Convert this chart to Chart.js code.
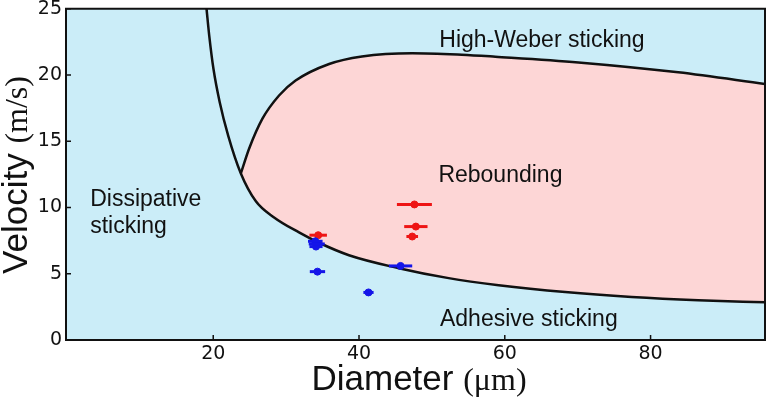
<!DOCTYPE html>
<html lang="en">
<head>
<meta charset="UTF-8">
<title>Impact regimes</title>
<script src="https://cdn.jsdelivr.net/npm/chart.js"></script>
<style>
    html, body { margin: 0; padding: 0; background: #fff; }
    .chart-box { width: 770px; height: 397px; }
</style>
</head>
<body>
<div class="chart-box"><canvas id="regimeChart"></canvas></div>
<script>
    // boundary curves: diameter (um) / velocity (m/s)
    const lowerD = [19.08, 19.45, 20.04, 20.89, 22.05, 23.79, 25.85, 28.35, 31.77, 34.51, 38.62, 45.46, 52.3, 59.16, 68.28, 77.4, 86.53, 95.7];
    const lowerV = [25.0, 22.98, 20.43, 17.95, 15.43, 12.57, 10.47, 9.25, 8.12, 7.34, 6.4, 5.42, 4.67, 4.14, 3.62, 3.25, 3.0, 2.84];
    const upperD = [23.79, 24.93, 26.75, 29.03, 31.3, 35.9, 40.4, 47.3, 54.1, 58.7, 70.1, 83.8, 95.7];
    const upperV = [12.57, 14.45, 16.7, 18.45, 19.58, 20.83, 21.4, 21.65, 21.53, 21.38, 20.95, 20.2, 19.32];

    // measurements with horizontal error bars
    const reboundD = [47.6, 47.8, 47.3, 34.4];
    const reboundV = [10.23, 8.56, 7.81, 7.91];
    const reboundErr = [2.4, 1.6, 0.8, 1.2];
    const stickD = [34.0, 34.2, 34.1, 34.3, 45.7, 41.3];
    const stickV = [7.45, 7.25, 7.05, 5.16, 5.59, 3.59];
    const stickErr = [1.0, 1.1, 0.9, 1.05, 1.6, 0.7];

    const xTicks = [20, 40, 60, 80];
    const yTicks = [0, 5, 10, 15, 20, 25];

    // region names, anchored in data coordinates
    const regionLabels = [
        { text: 'High-Weber sticking', x: 65.1, y: 22.08, align: 'center' },
        { text: 'Rebounding', x: 59.4, y: 11.95, align: 'center' },
        { text: 'Dissipative', x: 3.12, y: 10.15, align: 'left' },
        { text: 'sticking', x: 3.12, y: 8.07, align: 'left' },
        { text: 'Adhesive sticking', x: 63.3, y: 1.07, align: 'center' }
    ];

    const BLUE_BG = '#cbedf8';
    const PINK = '#fdd6d6';
    const RED = '#ee1515';
    const BLUE = '#1515e8';

    const pts = (xs, ys) => xs.map((x, i) => ({ x: x, y: ys[i] }));

    function drawMixed(ctx, parts, cx, cy) {
        let total = 0;
        parts.forEach(p => { ctx.font = p.font; p.w = ctx.measureText(p.text).width; total += p.w; });
        let x = cx - total / 2;
        parts.forEach(p => { ctx.font = p.font; ctx.fillText(p.text, x, cy); x += p.w; });
    }

    const decor = {
        id: 'decor',
        beforeDraw(chart) {
            const { ctx, chartArea: a } = chart;
            ctx.save();
            ctx.fillStyle = BLUE_BG;
            ctx.fillRect(a.left, a.top, a.right - a.left, a.bottom - a.top);
            ctx.restore();
        },
        afterDatasetsDraw(chart) {
            const { ctx, chartArea: a, scales: { x, y } } = chart;
            ctx.save();
            // error bars
            ctx.lineWidth = 3;
            [[reboundD, reboundV, reboundErr, RED], [stickD, stickV, stickErr, BLUE]].forEach(([ds, vs, es, c]) => {
                ctx.strokeStyle = c;
                ds.forEach((d, i) => {
                    const py = y.getPixelForValue(vs[i]);
                    ctx.beginPath();
                    ctx.moveTo(x.getPixelForValue(d - es[i]), py);
                    ctx.lineTo(x.getPixelForValue(d + es[i]), py);
                    ctx.stroke();
                });
            });
            // region names
            ctx.fillStyle = '#111';
            ctx.font = '23px "Liberation Sans", Arial, sans-serif';
            ctx.textBaseline = 'alphabetic';
            regionLabels.forEach(l => {
                ctx.textAlign = l.align;
                ctx.fillText(l.text, x.getPixelForValue(l.x), y.getPixelForValue(l.y));
            });
            // inward ticks + frame
            ctx.strokeStyle = '#111';
            ctx.lineWidth = 1.5;
            ctx.beginPath();
            xTicks.forEach(v => {
                const px = x.getPixelForValue(v);
                ctx.moveTo(px, a.bottom); ctx.lineTo(px, a.bottom - 5);
            });
            yTicks.forEach(v => {
                const py = y.getPixelForValue(v);
                ctx.moveTo(a.left, py); ctx.lineTo(a.left + 5, py);
            });
            ctx.stroke();
            ctx.lineWidth = 2;
            ctx.strokeRect(a.left, a.top, a.right - a.left, a.bottom - a.top);
            ctx.restore();
        },
        afterDraw(chart) {
            const { ctx } = chart;
            ctx.save();
            ctx.fillStyle = '#111';
            ctx.textAlign = 'left';
            ctx.textBaseline = 'alphabetic';
            drawMixed(ctx, [
                { text: 'Diameter ', font: '35px "Liberation Sans", Arial, sans-serif' },
                { text: '(\u03bcm)', font: '32px "Liberation Serif", "DejaVu Serif", serif' }
            ], 419, 390);
            ctx.translate(27, 175);
            ctx.rotate(-Math.PI / 2);
            drawMixed(ctx, [
                { text: 'Velocity ', font: '35px "Liberation Sans", Arial, sans-serif' },
                { text: '(m/s)', font: '32px "Liberation Serif", "DejaVu Serif", serif' }
            ], 0, 0);
            ctx.restore();
        }
    };

    new Chart(document.getElementById('regimeChart'), {
        type: 'line',
        data: {
            datasets: [
                {
                    label: 'lower boundary', data: pts(lowerD, lowerV),
                    borderColor: '#111', borderWidth: 2.5, pointRadius: 0,
                    cubicInterpolationMode: 'monotone', fill: false, order: 2
                },
                {
                    label: 'upper boundary', data: pts(upperD, upperV),
                    borderColor: '#111', borderWidth: 2.5, pointRadius: 0,
                    cubicInterpolationMode: 'monotone', fill: 0, backgroundColor: PINK, order: 3
                },
                {
                    label: 'rebounding', data: pts(reboundD, reboundV), showLine: false,
                    pointRadius: 3.5, pointBackgroundColor: RED, pointBorderColor: RED, order: 1
                },
                {
                    label: 'sticking', data: pts(stickD, stickV), showLine: false,
                    pointRadius: 3.5, pointBackgroundColor: BLUE, pointBorderColor: BLUE, order: 0
                }
            ]
        },
        options: {
            responsive: true,
            maintainAspectRatio: false,
            animation: false,
            layout: { padding: { top: 6, right: 2, left: 0, bottom: 0 } },
            plugins: { legend: { display: false }, tooltip: { enabled: false } },
            scales: {
                x: {
                    type: 'linear', min: -0.2, max: 95.7,
                    grid: { display: false, drawTicks: false },
                    border: { display: false },
                    ticks: { font: { family: '"DejaVu Sans", sans-serif', size: 19 }, color: '#111', padding: 3, maxRotation: 0 },
                    afterBuildTicks: s => { s.ticks = xTicks.map(v => ({ value: v })); },
                    afterFit: s => { s.height = 57; }
                },
                y: {
                    min: 0, max: 25,
                    grid: { display: false, drawTicks: false },
                    border: { display: false },
                    ticks: { font: { family: '"DejaVu Sans", sans-serif', size: 19, lineHeight: 0.5 }, color: '#111', padding: 4 },
                    afterBuildTicks: s => { s.ticks = yTicks.map(v => ({ value: v })); },
                    afterFit: s => { s.width = 66; }
                }
            }
        },
        plugins: [decor]
    });
</script>
</body>
</html>
